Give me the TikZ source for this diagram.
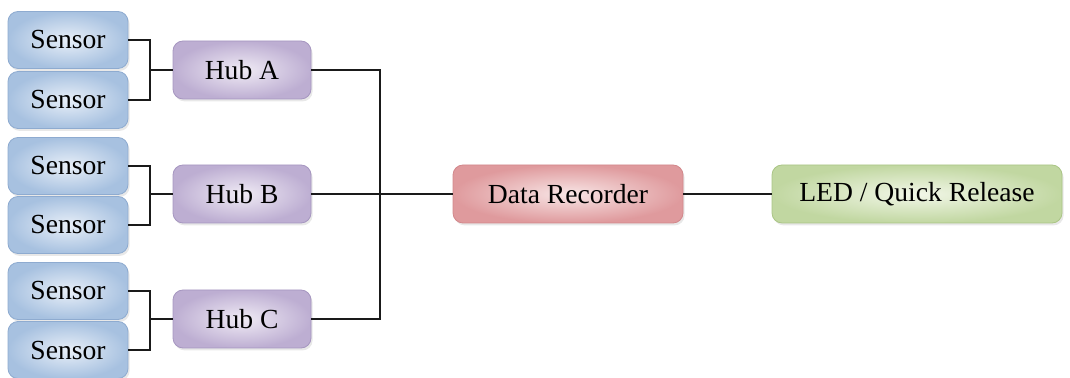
\documentclass[tikz,border=0pt]{standalone}
\usepackage{fontspec}
\setmainfont{Liberation Serif}
\usepackage{tikz}
\usetikzlibrary{positioning,shadows}
\definecolor{sensorlight}{HTML}{E8EFF8}
\definecolor{sensordark}{HTML}{A7C1E0}
\definecolor{sensorframe}{HTML}{8EABD0}
\definecolor{hublight}{HTML}{F0EBF5}
\definecolor{hubdark}{HTML}{BDAED2}
\definecolor{hubframe}{HTML}{A696C0}
\definecolor{reclight}{HTML}{F8E6E6}
\definecolor{recdark}{HTML}{DF9A9D}
\definecolor{recframe}{HTML}{D2878B}
\definecolor{ledlight}{HTML}{F2F7E8}
\definecolor{leddark}{HTML}{C1D7A1}
\definecolor{ledframe}{HTML}{AAC585}
\definecolor{wirecolor}{HTML}{1A1A1A}

\begin{document}
\begin{tikzpicture}[
    x=0.5pt, y=-0.5pt,
    every node/.style={font=\fontsize{13.8}{16}\selectfont},
    block/.style={
        rectangle,
        rounded corners=5pt,
        line width=0.4pt,
        drop shadow={opacity=0.18, shadow xshift=0.8pt, shadow yshift=-1.2pt}
    },
    sensorbox/.style={block, minimum width=60pt, minimum height=28.5pt,
        inner color=sensorlight, outer color=sensordark, draw=sensorframe},
    hubbox/.style={block, minimum width=69pt, minimum height=29pt,
        inner color=hublight, outer color=hubdark, draw=hubframe},
    wire/.style={draw=wirecolor, line width=0.9pt}
]
    \useasboundingbox (0,0) rectangle (1070,378);

    % === SENSORS ===
    \node[sensorbox] (sa1) at (68,40) {Sensor};
    \node[sensorbox] (sa2) at (68,100) {Sensor};
    \node[sensorbox] (sb1) at (68,166) {Sensor};
    \node[sensorbox] (sb2) at (68,225) {Sensor};
    \node[sensorbox] (sc1) at (68,291) {Sensor};
    \node[sensorbox] (sc2) at (68,350) {Sensor};

    % === HUBS ===
    \node[hubbox] (huba) at (242,70) {Hub A};
    \node[hubbox] (hubb) at (242,194) {Hub B};
    \node[hubbox] (hubc) at (242,319) {Hub C};

    % === RECORDER AND OUTPUT ===
    \node[block, minimum width=115pt, minimum height=29pt,
          inner color=reclight, outer color=recdark, draw=recframe] (rec) at (568,194) {Data Recorder};
    \node[block, minimum width=145pt, minimum height=29pt,
          inner color=ledlight, outer color=leddark, draw=ledframe] (led) at (917,194) {LED / Quick Release};

    % junction points
    \coordinate (ja) at (150,70);
    \coordinate (jb) at (150,194);
    \coordinate (jc) at (150,319);
    \coordinate (bus) at (380,194);

    % === SENSOR TO HUB WIRES ===
    \draw[wire] (sa1.east) -| (ja) |- (sa2.east);
    \draw[wire] (ja) -- (huba.west);
    \draw[wire] (sb1.east) -| (jb) |- (sb2.east);
    \draw[wire] (jb) -- (hubb.west);
    \draw[wire] (sc1.east) -| (jc) |- (sc2.east);
    \draw[wire] (jc) -- (hubc.west);

    % === HUB TO RECORDER WIRES ===
    \draw[wire] (huba.east) -| (bus);
    \draw[wire] (hubc.east) -| (bus);
    \draw[wire] (hubb.east) -- (rec.west);

    % recorder to output
    \draw[wire] (rec) -- (led);
\end{tikzpicture}
\end{document}
